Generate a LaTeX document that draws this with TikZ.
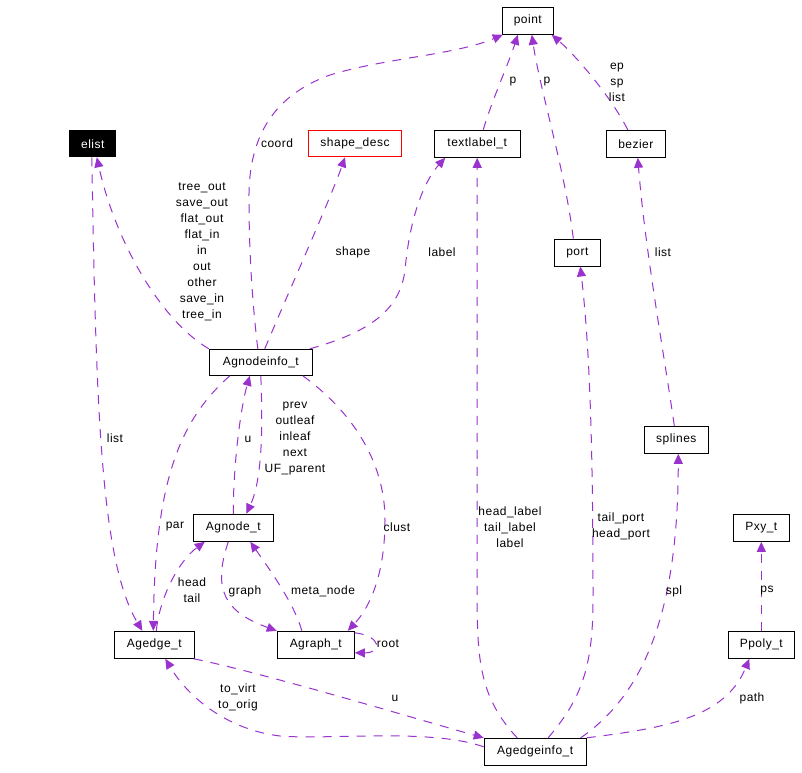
\documentclass[tikz,border=0pt]{standalone}
\usepackage{fontspec}
\setmainfont{Liberation Sans}[LetterSpace=4]
\usetikzlibrary{arrows.meta}
\definecolor{edgepurple}{HTML}{9A32CD}
\tikzset{
  cls/.style={draw=black, line width=1pt, minimum height=27pt, inner sep=0pt, font=\fontsize{12}{16}\selectfont, fill=white},
  lbl/.style={inner sep=0pt, align=center, font=\fontsize{12}{16}\selectfont},
  edge/.style={draw=edgepurple, line width=1pt, dash pattern=on 9pt off 8pt, -{Triangle[length=10pt,width=9pt]}, edgepurple},
}
\begin{document}
\begin{tikzpicture}[x=1pt,y=-1pt]
\useasboundingbox (0,0) rectangle (802,772);
% nodes
\node[cls, minimum width=51pt] (point) at (527.8,20.8) {point};
\node[cls, minimum width=46pt, minimum height=26pt, fill=black, text=white] (elist) at (92.8,143.8) {elist};
\node[cls, draw=red, minimum width=93pt, minimum height=26pt] (shapedesc) at (355,143.8) {shape\_desc};
\node[cls, minimum width=86pt] (textlabel) at (477.2,143.8) {textlabel\_t};
\node[cls, minimum width=59pt] (bezier) at (635.8,143.8) {bezier};
\node[cls, minimum width=46pt] (port) at (577.3,252.5) {port};
\node[cls, minimum width=103pt, minimum height=26pt] (Agnodeinfo) at (260.8,362.3) {Agnodeinfo\_t};
\node[cls, minimum width=64pt] (splines) at (676.3,439.8) {splines};
\node[cls, minimum width=80pt] (Agnode) at (233.3,527.8) {Agnode\_t};
\node[cls, minimum width=56pt] (Pxy) at (761.3,527.8) {Pxy\_t};
\node[cls, minimum width=80pt] (Agedge) at (154.3,644.8) {Agedge\_t};
\node[cls, minimum width=77pt] (Agraph) at (315.8,644.8) {Agraph\_t};
\node[cls, minimum width=66pt] (Ppoly) at (761.3,644.8) {Ppoly\_t};
\node[cls, minimum width=102pt] (Agedgeinfo) at (535.2,751.8) {Agedgeinfo\_t};
% edges
\draw[edge] ([xshift=-3pt]Agnodeinfo.north) .. controls (252,300) and (249,250) .. (249,200)
   .. controls (248,135) and (275,95) .. (330,75)
   .. controls (385,58) and (455,55) .. ([xshift=1pt]point.south west);
\draw[edge] ([xshift=6pt]textlabel.north) .. controls (492,100) and (508,65) .. ([xshift=-10pt]point.south);
\draw[edge] ([xshift=-4pt]port.north) .. controls (565,170) and (540,90) .. ([xshift=4pt]point.south);
\draw[edge] ([xshift=-8pt]bezier.north) .. controls (610,95) and (575,55) .. ([xshift=-2pt]point.south east);
\draw[edge] ([xshift=-2pt]splines.north) .. controls (665,360) and (645,250) .. ([xshift=2pt]bezier.south);
\draw[edge] (Agnodeinfo.north west) .. controls (160,320) and (115,240) .. ([xshift=4pt]elist.south);
\draw[edge] ([xshift=4pt]Agnodeinfo.north) .. controls (285,300) and (330,200) .. ([xshift=-10pt]shapedesc.south);
\draw[edge] ([xshift=-3pt]Agnodeinfo.north east) .. controls (370,332) and (400,310) .. (405,270)
   .. controls (410,215) and (425,180) .. ([xshift=-32pt]textlabel.south);
\draw[edge] ([xshift=-1pt]elist.south) .. controls (96,400) and (100,560) .. ([xshift=-12pt]Agedge.north);
\draw[edge] ([xshift=-31pt]Agnodeinfo.south) .. controls (180,420) and (155,480) .. ([xshift=-1pt]Agedge.north);
\draw[edge] (Agnode.north) .. controls (233,470) and (240,410) .. ([xshift=-11pt]Agnodeinfo.south);
\draw[edge] (Agnodeinfo.south) .. controls (263,430) and (262,480) .. ([xshift=13pt]Agnode.north);
\draw[edge] ([xshift=-10pt]Agnodeinfo.south east) .. controls (350,410) and (385,460) .. (385,520)
   .. controls (385,570) and (372,605) .. ([xshift=-7pt]Agraph.north east);
\draw[edge] ([xshift=2pt]Agedge.north) .. controls (160,595) and (180,560) .. ([xshift=12pt]Agnode.south west);
\draw[edge] ([xshift=-5pt]Agnode.south) .. controls (212,590) and (225,612) .. (Agraph.north west);
\draw[edge] ([xshift=-14pt]Agraph.north) .. controls (295,605) and (270,570) .. ([xshift=17pt]Agnode.south);
\draw[edge] ([yshift=-2pt]Agraph.north east) .. controls (382,636) and (382,653) .. ([yshift=-22pt]Agraph.north east);
\draw[edge] ([yshift=5pt]Agedgeinfo.west) .. controls (430,728) and (330,740) .. (280,736)
   .. controls (230,730) and (190,700) .. ([xshift=11pt]Agedge.south);
\draw[edge] ([xshift=-1pt]Agedge.south east) .. controls (260,672) and (420,720) .. (Agedgeinfo.north west);
\draw[edge] ([xshift=-18pt]Agedgeinfo.north) .. controls (482,700) and (477,665) .. (477.2,600) -- (textlabel.south);
\draw[edge] ([xshift=13pt]Agedgeinfo.north) .. controls (580,700) and (593,670) .. (593,600)
   .. controls (593,450) and (590,350) .. ([xshift=3pt]port.south);
\draw[edge] ([xshift=-6pt]Agedgeinfo.north east) .. controls (650,690) and (678,600) .. ([xshift=2pt]splines.south);
\draw[edge] (Agedgeinfo.north east) .. controls (665,728) and (725,718) .. ([xshift=-12pt]Ppoly.south);
\draw[edge] (Ppoly.north) -- (Pxy.south);
% labels
\node[lbl] (lcoord) at (277,143) {coord};
\node[lbl] (lp1) at (513,82) {p};
\node[lbl] (lp2) at (547,82) {p};
\node[lbl] (lepsp) at (617,82) {ep\\sp\\list};
\node[lbl] (ltree) at (202,252) {tree\_out\\save\_out\\flat\_out\\flat\_in\\in\\out\\other\\save\_in\\tree\_in};
\node[lbl] (lshape) at (353,252) {shape};
\node[lbl] (llabel) at (442,252) {label};
\node[lbl] (llistb) at (663,252) {list};
\node[lbl] (lliste) at (115,438) {list};
\node[lbl] (lu1) at (248,439) {u};
\node[lbl] (lprev) at (295,439) {prev\\outleaf\\inleaf\\next\\UF\_parent};
\node[lbl] (lpar) at (175,527) {par};
\node[lbl] (lclust) at (397,527) {clust};
\node[lbl] (lhl) at (510,527) {head\_label\\tail\_label\\label};
\node[lbl] (ltp) at (621,526) {tail\_port\\head\_port};
\node[lbl] (lht) at (192,590.5) {head\\tail};
\node[lbl] (lgraph) at (245,591) {graph};
\node[lbl] (lmeta) at (323,591) {meta\_node};
\node[lbl] (lspl) at (674,591) {spl};
\node[lbl] (lps) at (767,591) {ps};
\node[lbl] (lroot) at (388,644) {root};
\node[lbl] (lvirt) at (238,697.5) {to\_virt\\to\_orig};
\node[lbl] (lu2) at (395,698) {u};
\node[lbl] (lpath) at (752,698) {path};
\end{tikzpicture}
\end{document}
